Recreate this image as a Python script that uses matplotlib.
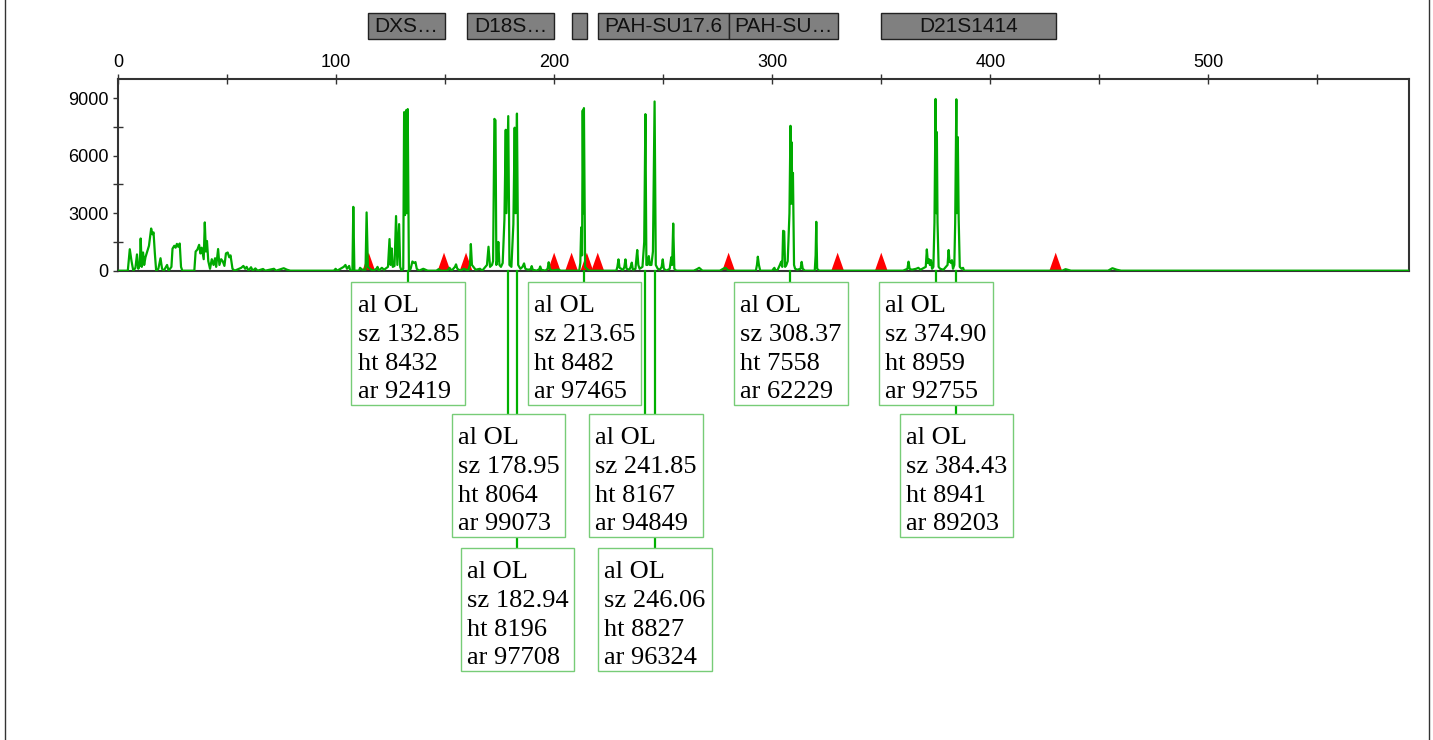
import numpy as np
import matplotlib.pyplot as plt
import matplotlib.transforms as mtransforms
from matplotlib.patches import Rectangle
from matplotlib.lines import Line2D

plt.rcParams['font.family'] = ['Liberation Sans', 'DejaVu Sans']

# marker bins shown above the trace
bin_names = ['DXS…', 'D18S…', '', 'PAH-SU17.6', 'PAH-SU…', 'D21S1414']
bin_start = [114.7, 160, 208, 220, 280, 350]
bin_end = [150, 200, 215, 280, 330, 430]

# red triangles on the baseline
tri_pos = [115, 149.5, 159.6, 200, 208, 215, 220, 280, 330, 350, 430]

# called peaks
peak_sz = [132.85, 178.95, 182.94, 213.65, 241.85, 246.06, 308.37, 374.90, 384.43]
peak_ht = [8432, 8064, 8196, 8482, 8167, 8827, 7558, 8959, 8941]
peak_ar = [92419, 99073, 97708, 97465, 94849, 96324, 62229, 92755, 89203]
peak_al = ['OL'] * 9
peak_row = [0, 1, 2, 0, 1, 2, 0, 0, 1]

# trace
tx_a = [0, 4.5, 5.4, 6.2, 7.0, 8.0, 8.7, 9.3, 10.0, 10.4,
        10.9, 11.5, 12.0, 12.6, 13.4, 14.2, 15.2, 15.8, 16.3, 16.9,
        17.5, 18.5, 19.5, 20.2, 21.0, 22.5, 23.2, 24.5, 25.0, 25.8,
        26.4, 27.0, 27.6, 28.3, 28.9, 29.5, 35.0, 35.6, 36.4, 37.2,
        37.8, 38.4, 39.3, 39.8, 40.3, 40.8, 41.4, 42.2, 43.0, 43.8,
        44.5, 45.0, 45.9, 46.5, 47.3, 48.0, 48.8, 49.5, 50.3, 51.0,
        51.6, 52.5, 53.5, 56.5, 57.5, 58.3, 59.0, 59.8, 61.0, 61.8,
        63.0, 64.0, 66.5, 67.5, 71.5, 72.5, 76.0, 77.5, 79]
ty_a = [0, 0, 1120, 500, 0, 150, 850, 100, 300, 1680,
        200, 950, 300, 700, 1000, 1300, 2200, 1900, 2000, 900,
        0, 100, 650, 100, 0, 300, 0, 200, 1150, 1300,
        1200, 1400, 1250, 1420, 200, 0, 0, 1000, 1100, 1350,
        900, 1200, 600, 2520, 1000, 1550, 500, 100, 600, 300,
        650, 200, 1130, 300, 600, 500, 250, 900, 950, 700,
        800, 100, 0, 150, 250, 100, 200, 0, 180, 0,
        120, 0, 90, 0, 100, 0, 130, 50, 0]

tx_b = [99, 99.8, 100.5, 103.5, 104.3, 105.0, 106.0, 106.5, 107.5, 107.9,
        108.4, 110.5, 111, 112, 113.5, 114.0, 114.6, 115.5, 117, 118.5,
        119, 119.5, 121, 122, 123.8, 124.5, 125.0, 125.5, 126.0, 126.8,
        127.5, 128.1, 128.9, 129.4, 130.0, 130.8, 131.2, 131.6, 132.1, 132.5,
        132.85, 133.4, 134.2, 135.0, 135.8, 136.4, 137.0, 138, 140, 141,
        142]
ty_b = [0, 100, 0, 200, 300, 100, 250, 0, 0, 3330,
        0, 0, 150, 50, 50, 3040, 200, 100, 0, 100,
        200, 0, 150, 50, 200, 1650, 300, 1160, 200, 250,
        2850, 300, 2430, 200, 0, 100, 8270, 2900, 8370, 3000,
        8432, 0, 100, 480, 400, 450, 100, 0, 100, 50,
        0]

tx_c = [146, 147, 148, 151, 152, 153, 154.5, 155.0, 155.6, 157,
        158.5, 159.5, 160.5, 161.4, 161.8, 162.3, 163, 164, 166, 167,
        169.2, 169.9, 170.6, 171.5, 172.0, 172.6, 173.1, 173.5, 174.0, 174.4,
        174.9, 175.6, 176.4, 177.2, 177.8, 178.1, 178.95, 179.5, 180.4, 181.3,
        181.9, 182.3, 182.94, 183.5, 184.5, 185.5, 186.2, 186.8, 188, 189.3,
        189.7, 190.2, 192, 193.2, 193.6, 194.1, 196, 197.0, 197.5, 198.0,
        199]
ty_c = [0, 80, 0, 0, 150, 0, 200, 330, 100, 0,
        100, 60, 0, 300, 1390, 300, 200, 50, 100, 0,
        300, 1250, 200, 300, 500, 7920, 7850, 300, 600, 1500,
        300, 200, 400, 2670, 7350, 3000, 8064, 300, 200, 2430,
        7460, 3000, 8196, 300, 100, 200, 380, 100, 50, 80,
        240, 50, 0, 80, 220, 50, 0, 100, 440, 100,
        0]

tx_d = [202, 203, 211.5, 212.0, 212.4, 212.8, 213.1, 213.4, 213.65, 214.2,
        215, 216, 228.5, 229.0, 229.5, 230.0, 230.8, 231.5, 232.2, 232.7,
        233.2, 234.5, 235.1, 235.6, 236.1, 237.3, 237.6, 238.1, 238.6, 239.2,
        240.5, 241.3, 241.85, 242.3, 242.8, 243.4, 243.9, 244.6, 245.3, 246.06,
        246.6, 247.5, 248.5, 249.3, 249.8, 250.3, 251.5, 253.0, 253.7, 254.1,
        254.6, 255.1, 256]
ty_d = [60, 0, 0, 400, 2260, 800, 8360, 3000, 8482, 200,
        100, 0, 0, 200, 590, 150, 100, 0, 200, 590,
        100, 50, 200, 420, 50, 100, 500, 1080, 300, 100,
        200, 1500, 8167, 300, 300, 760, 300, 300, 1000, 8827,
        300, 100, 50, 200, 590, 100, 0, 100, 700, 300,
        2460, 100, 0]

tx_e = [264, 265.5, 266.5, 268, 276, 277.5, 278.5, 280, 292.5, 293.0,
        293.4, 293.9, 294.5, 300, 300.6, 301.0, 301.5, 302.5, 303.5, 304.1,
        304.6, 305.0, 305.5, 305.9, 306.5, 307.1, 307.9, 308.37, 308.6, 308.9,
        309.2, 309.5, 310.0, 310.5, 311.5, 313.0, 313.5, 314.0, 315, 319.5,
        319.9, 320.2, 320.6, 321.5]
ty_e = [0, 80, 150, 0, 0, 100, 150, 0, 0, 300,
        730, 300, 0, 0, 100, 150, 0, 50, 300, 470,
        200, 2080, 2050, 200, 300, 500, 3000, 7558, 3500, 6700,
        3500, 5100, 300, 100, 50, 100, 460, 100, 0, 0,
        800, 2550, 100, 0]

tx_f = [360, 362.0, 362.5, 363.0, 364, 366, 367, 368, 370.4, 370.9,
        371.4, 371.9, 372.3, 372.8, 373.3, 373.9, 374.4, 374.9, 375.2, 375.5,
        375.8, 376.3, 377, 378.5, 380.4, 380.9, 381.3, 381.6, 382.0, 382.4,
        382.9, 383.5, 383.9, 384.43, 384.7, 385.1, 385.5, 386.0, 386.8, 387.5,
        388, 433, 434.5, 435.5, 437, 454, 456, 458, 460, 592]
ty_f = [0, 100, 470, 100, 50, 100, 150, 50, 200, 1110,
        400, 600, 300, 550, 100, 200, 2500, 8959, 3000, 7230,
        2520, 200, 100, 50, 300, 1080, 450, 500, 400, 550,
        100, 300, 2500, 8941, 3000, 6970, 2700, 200, 100, 150,
        0, 0, 80, 50, 0, 0, 130, 50, 0, 0]

trace_x = np.concatenate([tx_a, tx_b, tx_c, tx_d, tx_e, tx_f])
trace_y = np.concatenate([ty_a, ty_b, ty_c, ty_d, ty_e, ty_f])

W, H = 1433, 740
fig = plt.figure(figsize=(W / 100, H / 100), dpi=100)
ax = fig.add_axes([118 / W, 1 - 270.7 / H, (1409 - 118) / W, (270.7 - 79) / H])

def fy(px):
    return 1 - px / H

# triangles first, trace on top
for p in tri_pos:
    ax.fill([p - 2.9, p, p + 2.9], [0, 940, 0], color='#ff0000', lw=0, zorder=2)
ax.plot(trace_x, trace_y, color='#00aa00', lw=1.6, zorder=3)

ax.set_xlim(0, 592)
ax.set_ylim(0, 10000)
ax.xaxis.tick_top()
ax.set_xticks(np.arange(0, 600, 100))
ax.set_xticks(np.arange(50, 600, 100), minor=True)
ax.set_yticks([0, 3000, 6000, 9000])
ax.set_yticks([1500, 4500, 7500], minor=True)
ax.tick_params(axis='x', which='both', direction='inout', length=7.5, width=1,
               color='#333333', labelsize=13, pad=2)
ax.tick_params(axis='y', which='major', direction='out', length=3.8, width=1,
               color='#333333', labelsize=13, pad=3)
ax.tick_params(axis='y', which='minor', direction='inout', length=7.5, width=1,
               color='#333333')
for s in ax.spines.values():
    s.set_color('#333333')
    s.set_linewidth(1.5)

trans = mtransforms.blended_transform_factory(ax.transData, fig.transFigure)

# marker bins at the top
for name, s, e in zip(bin_names, bin_start, bin_end):
    ax.add_patch(Rectangle((s, fy(39)), e - s, 26 / H, transform=trans,
                           facecolor='#808080', edgecolor='#222222', lw=1,
                           clip_on=False, zorder=5))
    ax.text((s + e) / 2, fy(26.5), name, transform=trans, ha='center', va='center',
            fontsize=15, color='#111111', clip_on=False, zorder=6)

# peak labels
row_top = [282, 414, 548]
box_h = 123
for sz, ht, ar, al, r in zip(peak_sz, peak_ht, peak_ar, peak_al, peak_row):
    top = row_top[r]
    ax.add_line(Line2D([sz, sz], [fy(270.7), fy(top)], transform=trans,
                       color='#00b000', lw=1.6, clip_on=False, zorder=4))
    left = sz - 25.8
    ax.add_patch(Rectangle((left, fy(top + box_h)), 52, box_h / H, transform=trans,
                           facecolor='white', edgecolor='#77cc77', lw=1,
                           clip_on=False, zorder=5))
    lines = [f'al {al}', f'sz {sz:.2f}', f'ht {ht}', f'ar {ar}']
    for i, t in enumerate(lines):
        ax.text(left + 2.8, fy(top + 30 + 28.8 * i), t, transform=trans,
                ha='left', va='baseline', fontsize=19, family='Liberation Serif',
                color='black', clip_on=False, zorder=6)

# page edges
fig.add_artist(Line2D([4.5 / W, 4.5 / W], [0, 1], color='#333333', lw=1))
fig.add_artist(Line2D([1428.5 / W, 1428.5 / W], [0, 1], color='#333333', lw=1))

fig.savefig('out.png', dpi=100)
